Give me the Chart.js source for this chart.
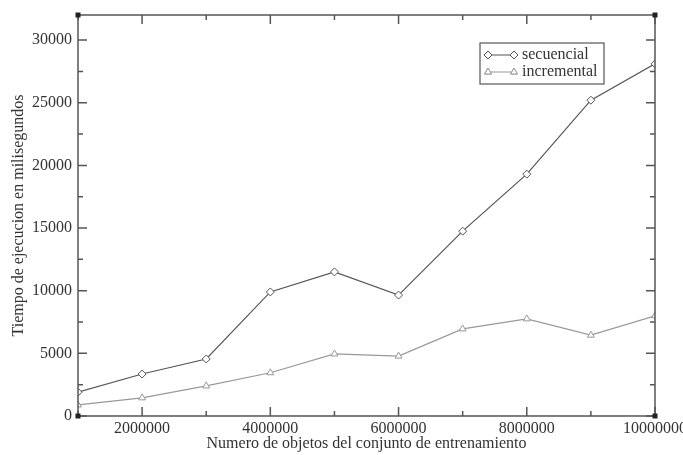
<!DOCTYPE html>
<html><head><meta charset="utf-8">
<script src="https://cdn.jsdelivr.net/npm/chart.js@4/dist/chart.umd.min.js"></script>
<style>html,body{margin:0;padding:0;background:#fff}#wrap{width:683px;height:455px}</style>
</head><body><div id="wrap"><canvas id="c" width="683" height="455"></canvas></div>
<script>
const xValues = [1000000,2000000,3000000,4000000,5000000,6000000,7000000,8000000,9000000,10000000];
const secuencial = [1900,3350,4550,9900,11500,9650,14750,19300,25200,28100];
const incremental = [880,1450,2400,3450,4950,4780,6950,7750,6450,8000];
const xTickLabels = [2000000,4000000,6000000,8000000,10000000];
const yTickLabels = [0,5000,10000,15000,20000,25000,30000];
const seriesNames = ['secuencial','incremental'];
const FONT = '"Liberation Serif", "DejaVu Serif", serif';

const axisPlugin = {
  id: 'graceAxes',
  afterDraw(chart) {
    const ctx = chart.ctx, a = chart.chartArea;
    const xs = chart.scales.x, ys = chart.scales.y;
    ctx.save();
    ctx.strokeStyle = '#555'; ctx.lineWidth = 1.5;
    ctx.strokeRect(a.left, a.top, a.right - a.left, a.bottom - a.top);
    for (let v = 1000000; v <= 10000000; v += 1000000) {
      const px = xs.getPixelForValue(v);
      const len = (v % 2000000 === 0) ? 9 : 5;
      ctx.beginPath();
      ctx.moveTo(px, a.bottom); ctx.lineTo(px, a.bottom - len);
      ctx.moveTo(px, a.top); ctx.lineTo(px, a.top + len);
      ctx.stroke();
    }
    for (let v = 0; v <= 32000; v += 2500) {
      const py = ys.getPixelForValue(v);
      const len = (v % 5000 === 0) ? 9 : 5;
      ctx.beginPath();
      ctx.moveTo(a.left, py); ctx.lineTo(a.left + len, py);
      ctx.moveTo(a.right, py); ctx.lineTo(a.right - len, py);
      ctx.stroke();
    }
    ctx.fillStyle = '#222';
    [[a.left,a.top],[a.right,a.top],[a.left,a.bottom],[a.right,a.bottom]].forEach(p=>{
      ctx.fillRect(p[0]-2.5, p[1]-2.5, 5, 5);
    });
    ctx.fillStyle = '#333';
    ctx.font = '16px ' + FONT;
    ctx.textAlign = 'center'; ctx.textBaseline = 'middle';
    xTickLabels.forEach(v => ctx.fillText(String(v), xs.getPixelForValue(v), a.bottom + 13));
    ctx.textAlign = 'right'; ctx.textBaseline = 'middle';
    yTickLabels.forEach(v => ctx.fillText(String(v), a.left - 6, ys.getPixelForValue(v)));
    ctx.font = '16px ' + FONT;
    ctx.textAlign = 'center'; ctx.textBaseline = 'middle';
    ctx.fillText('Numero de objetos del conjunto de entrenamiento', (a.left + a.right) / 2, 444);
    ctx.save();
    ctx.translate(19, (a.top + a.bottom) / 2);
    ctx.rotate(-Math.PI / 2);
    ctx.fillText('Tiempo de ejecucion en milisegundos', 0, 0);
    ctx.restore();
    ctx.strokeStyle = '#555'; ctx.lineWidth = 1.2;
    ctx.strokeRect(480, 43, 124, 41);
    const rows = [
      {name: seriesNames[0], color: '#555', style: 'rectRot', y: 55},
      {name: seriesNames[1], color: '#999', style: 'triangle', y: 72}
    ];
    rows.forEach(r => {
      ctx.strokeStyle = r.color; ctx.lineWidth = 1;
      ctx.beginPath(); ctx.moveTo(488, r.y); ctx.lineTo(514, r.y); ctx.stroke();
      [488, 514].forEach(x => {
        ctx.fillStyle = '#fff';
        Chart.helpers.drawPoint(ctx, {pointStyle: r.style, radius: 4, borderWidth: 1}, x, r.y);
        ctx.fill(); ctx.stroke();
      });
      ctx.fillStyle = '#333';
      ctx.font = '16px ' + FONT;
      ctx.textAlign = 'left'; ctx.textBaseline = 'middle';
      ctx.fillText(r.name, 522, r.y);
    });
    ctx.restore();
  }
};

new Chart(document.getElementById('c'), {
  type: 'line',
  data: {
    datasets: [
      { label: seriesNames[0], data: xValues.map((x,i)=>({x, y: secuencial[i]})),
        borderColor: '#555', borderWidth: 1.2, pointStyle: 'rectRot', pointRadius: 4,
        pointBackgroundColor: '#fff', pointBorderColor: '#555', pointBorderWidth: 1, tension: 0 },
      { label: seriesNames[1], data: xValues.map((x,i)=>({x, y: incremental[i]})),
        borderColor: '#999', borderWidth: 1.2, pointStyle: 'triangle', pointRadius: 4,
        pointBackgroundColor: '#fff', pointBorderColor: '#999', pointBorderWidth: 1, tension: 0 }
    ]
  },
  options: {
    responsive: false, animation: false,
    layout: { padding: { left: 78, right: 28, top: 15, bottom: 39 } },
    plugins: { legend: { display: false }, tooltip: { enabled: false } },
    scales: {
      x: { type: 'linear', min: 1000000, max: 10000000, display: false },
      y: { type: 'linear', min: 0, max: 32000, display: false }
    }
  },
  plugins: [axisPlugin]
});
</script></body></html>
